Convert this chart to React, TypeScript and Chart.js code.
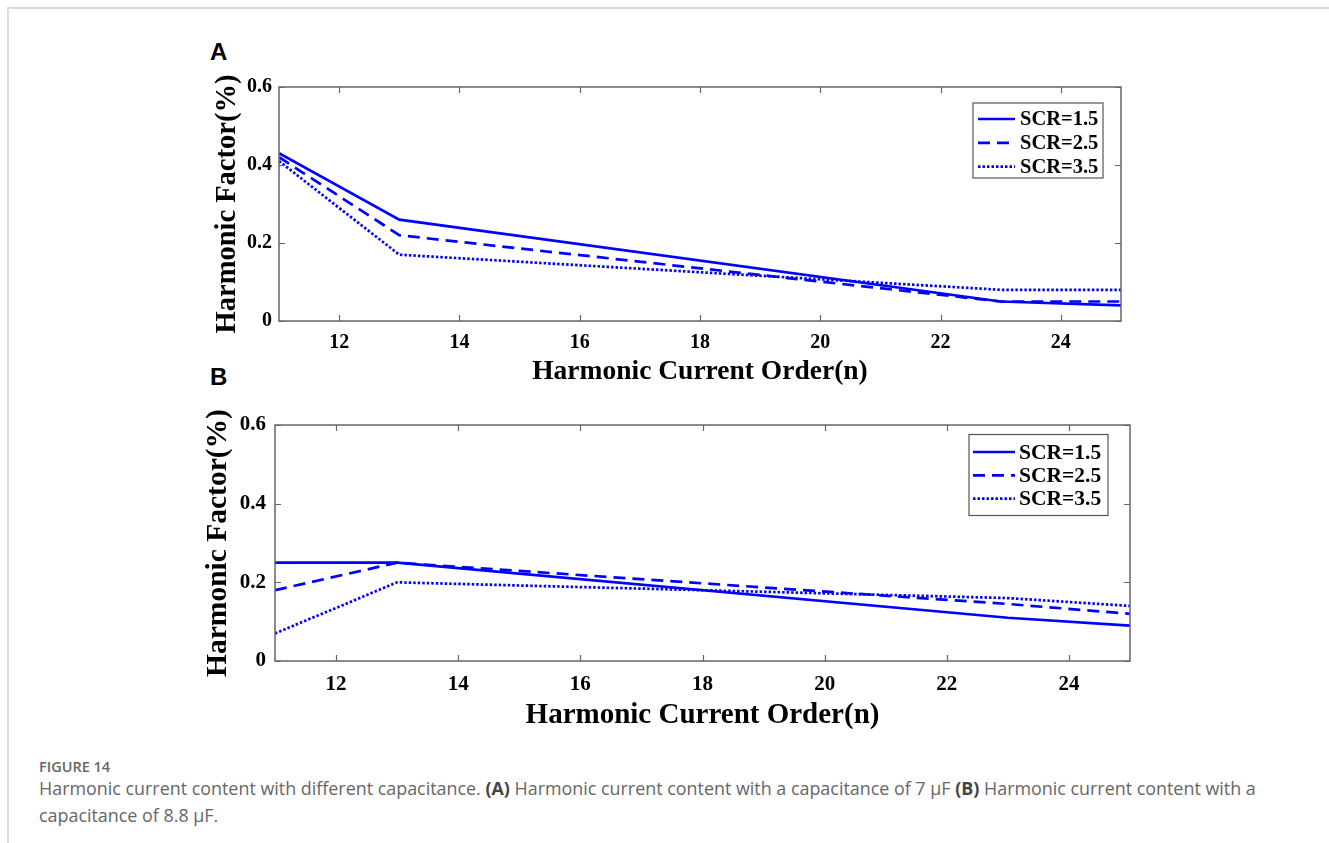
import React, { useEffect, useRef } from 'react';
import { Chart, registerables } from 'chart.js';

Chart.register(...registerables);

// ---- data ----
const harmonicOrders = [11, 13, 23, 25];
const seriesLabels = ['SCR=1.5', 'SCR=2.5', 'SCR=3.5'];

const panelA_scr15 = [0.43, 0.26, 0.05, 0.04];
const panelA_scr25 = [0.42, 0.22, 0.05, 0.05];
const panelA_scr35 = [0.41, 0.17, 0.08, 0.08];

const panelB_scr15 = [0.25, 0.25, 0.11, 0.09];
const panelB_scr25 = [0.18, 0.25, 0.145, 0.12];
const panelB_scr35 = [0.07, 0.2, 0.16, 0.14];

const xTickValues = [12, 14, 16, 18, 20, 22, 24];
const yTickValues = [0, 0.2, 0.4, 0.6];
const yTickLabels = ['0', '0.2', '0.4', '0.6'];

const xTitle = 'Harmonic Current Order(n)';
const yTitle = 'Harmonic Factor(%)';

// ---- styling ----
const BLUE = '#0000ff';
const SERIF = '"Liberation Serif", "Times New Roman", serif';
const lineStyles = [
  { borderDash: [] as number[], borderWidth: 2.7 },
  { borderDash: [12, 7], borderWidth: 2.7 },
  { borderDash: [2.5, 2], borderWidth: 2.7 },
];

const framePlugin = {
  id: 'matlabFrame',
  afterDatasetsDraw(chart: any, _args: any, opts: any) {
    const { ctx, chartArea } = chart;
    const { left, right, top, bottom } = chartArea;
    const xs = chart.scales.x;
    const ys = chart.scales.y;
    ctx.save();
    // inward ticks
    ctx.strokeStyle = opts.color;
    ctx.lineWidth = 1.2;
    ctx.setLineDash([]);
    ctx.beginPath();
    const L = opts.tickLen;
    for (const t of xs.ticks) {
      const px = Math.round(xs.getPixelForValue(t.value)) + 0.5;
      ctx.moveTo(px, bottom);
      ctx.lineTo(px, bottom - L);
      ctx.moveTo(px, top);
      ctx.lineTo(px, top + L);
    }
    for (const t of ys.ticks) {
      const py = Math.round(ys.getPixelForValue(t.value)) + 0.5;
      ctx.moveTo(left, py);
      ctx.lineTo(left + L, py);
      ctx.moveTo(right, py);
      ctx.lineTo(right - L, py);
    }
    ctx.stroke();
    // frame
    ctx.lineWidth = opts.frameWidth;
    ctx.strokeRect(left, top, right - left, bottom - top);

    // legend box
    const bw = opts.legendW;
    const bh = opts.legendH;
    const bx = right - opts.legendRight - bw;
    const by = top + opts.legendTop;
    ctx.fillStyle = '#ffffff';
    ctx.fillRect(bx, by, bw, bh);
    ctx.strokeStyle = '#555';
    ctx.lineWidth = 1.2;
    ctx.strokeRect(bx, by, bw, bh);
    chart.data.datasets.forEach((ds: any, i: number) => {
      const ry = by + opts.rowStart + i * opts.rowGap;
      ctx.beginPath();
      ctx.strokeStyle = ds.borderColor;
      ctx.lineWidth = ds.borderWidth;
      ctx.setLineDash(ds.borderDash || []);
      ctx.moveTo(bx + opts.sampleX0, ry);
      ctx.lineTo(bx + opts.sampleX1, ry);
      ctx.stroke();
      ctx.setLineDash([]);
      ctx.fillStyle = '#000';
      ctx.font = `bold ${opts.legendFont}px ${SERIF}`;
      ctx.textAlign = 'left';
      ctx.textBaseline = 'middle';
      ctx.fillText(ds.label, bx + opts.textX, ry + 1);
    });
    ctx.restore();
  },
};

type Panel = {
  series: number[][];
  canvasLeft: number;
  canvasTop: number;
  canvasW: number;
  canvasH: number;
  padTop: number;
  padRight: number;
  yAxisW: number;
  xAxisH: number;
  tickFont: number;
  xTitleFont: number;
  yTitleFont: number;
  yTitlePad: number;
  xTitlePadBottom: number;
  xTickPad: number;
  yTickPad: number;
  legend: any;
};

const panelA: Panel = {
  series: [panelA_scr15, panelA_scr25, panelA_scr35],
  canvasLeft: 180,
  canvasTop: 55,
  canvasW: 960,
  canvasH: 340,
  padTop: 32,
  padRight: 19,
  yAxisW: 99,
  xAxisH: 74,
  tickFont: 20,
  xTitleFont: 27.5,
  yTitleFont: 28.5,
  yTitlePad: 33.5,
  xTitlePadBottom: 9.5,
  xTickPad: 10,
  yTickPad: 7,
  legend: {
    legendW: 130, legendH: 75, legendRight: 18, legendTop: 16,
    rowStart: 16, rowGap: 23.8, sampleX0: 5, sampleX1: 42, textX: 47, legendFont: 20.5,
  },
};

const panelB: Panel = {
  series: [panelB_scr15, panelB_scr25, panelB_scr35],
  canvasLeft: 180,
  canvasTop: 395,
  canvasW: 960,
  canvasH: 345,
  padTop: 30,
  padRight: 10,
  yAxisW: 95,
  xAxisH: 79,
  tickFont: 21,
  xTitleFont: 29,
  yTitleFont: 29.5,
  yTitlePad: 23.5,
  xTitlePadBottom: 10,
  xTickPad: 10.5,
  yTickPad: 9,
  legend: {
    legendW: 139, legendH: 81, legendRight: 22, legendTop: 9.5,
    rowStart: 17.5, rowGap: 23.3, sampleX0: 4, sampleX1: 46, textX: 50, legendFont: 21.5,
  },
};

function ChartPanel({ p }: { p: Panel }) {
  const ref = useRef<HTMLCanvasElement | null>(null);
  useEffect(() => {
    if (!ref.current) return;
    const datasets = p.series.map((vals, i) => ({
      label: seriesLabels[i],
      data: harmonicOrders.map((x, j) => ({ x, y: vals[j] })),
      borderColor: BLUE,
      backgroundColor: BLUE,
      borderWidth: lineStyles[i].borderWidth,
      borderDash: lineStyles[i].borderDash,
      pointRadius: 0,
      tension: 0,
      fill: false,
    }));
    const tickFont = { family: SERIF, weight: 'bold' as const, size: p.tickFont };
    const xTitleFont = { family: SERIF, weight: 'bold' as const, size: p.xTitleFont, lineHeight: 1 };
    const yTitleFont = { family: SERIF, weight: 'bold' as const, size: p.yTitleFont, lineHeight: 1 };
    const chart = new Chart(ref.current, {
      type: 'line',
      data: { datasets },
      plugins: [framePlugin],
      options: {
        responsive: false,
        animation: false,
        devicePixelRatio: 1,
        layout: { padding: { top: p.padTop, right: p.padRight, left: 0, bottom: 0 } },
        plugins: {
          legend: { display: false },
          tooltip: { enabled: false },
          matlabFrame: { color: '#666', frameWidth: 1.5, tickLen: 6, ...p.legend },
        } as any,
        scales: {
          x: {
            type: 'linear',
            min: 11,
            max: 25,
            afterBuildTicks: (s: any) => {
              s.ticks = xTickValues.map((v) => ({ value: v }));
            },
            afterFit: (s: any) => {
              s.height = p.xAxisH;
            },
            grid: { display: false, drawTicks: false },
            border: { display: false },
            ticks: {
              color: '#000',
              font: tickFont,
              padding: p.xTickPad,
              maxRotation: 0,
              autoSkip: false,
              callback: (v: any) => String(v),
            },
            title: {
              display: true,
              text: xTitle,
              color: '#000',
              font: xTitleFont,
              padding: { top: 0, bottom: p.xTitlePadBottom },
            },
          },
          y: {
            type: 'linear',
            min: 0,
            max: 0.6,
            afterBuildTicks: (s: any) => {
              s.ticks = yTickValues.map((v) => ({ value: v }));
            },
            afterFit: (s: any) => {
              s.width = p.yAxisW;
            },
            grid: { display: false, drawTicks: false },
            border: { display: false },
            ticks: {
              color: '#000',
              font: tickFont,
              padding: p.yTickPad,
              autoSkip: false,
              callback: (v: any) => {
                const idx = yTickValues.indexOf(v);
                return idx >= 0 ? yTickLabels[idx] : String(v);
              },
            },
            title: {
              display: true,
              text: yTitle,
              color: '#000',
              font: yTitleFont,
              padding: { top: p.yTitlePad, bottom: 0 },
            },
          },
        },
      } as any,
    });
    return () => chart.destroy();
  }, [p]);
  return (
    <canvas
      ref={ref}
      width={p.canvasW}
      height={p.canvasH}
      style={{
        position: 'absolute',
        left: p.canvasLeft,
        top: p.canvasTop,
        width: p.canvasW,
        height: p.canvasH,
      }}
    />
  );
}

const panelLabelStyle: React.CSSProperties = {
  position: 'absolute',
  fontFamily: '"Liberation Sans", Arial, sans-serif',
  fontWeight: 'bold',
  fontSize: 24,
  lineHeight: '26px',
  color: '#000',
};

const captionFont = '"Open Sans", "Noto Sans", sans-serif';

export default function App() {
  return (
    <div>
      <div
        style={{
          position: 'absolute',
          left: 7,
          top: 7,
          width: 1322,
          height: 836,
          borderTop: '2px solid #dcdcdc',
          borderLeft: '2px solid #dcdcdc',
          boxSizing: 'border-box',
        }}
      />
      <div style={{ ...panelLabelStyle, left: 210, top: 39 }}>A</div>
      <div style={{ ...panelLabelStyle, left: 210, top: 364 }}>B</div>
      <ChartPanel p={panelA} />
      <ChartPanel p={panelB} />
      <div
        style={{
          position: 'absolute',
          left: 39,
          top: 758,
          fontFamily: captionFont,
          fontSize: 14.5,
          fontWeight: 600,
          lineHeight: '18px',
          color: '#666',
          whiteSpace: 'nowrap',
        }}
      >
        FIGURE 14
      </div>
      <div
        style={{
          position: 'absolute',
          left: 39,
          top: 774.5,
          fontFamily: captionFont,
          fontSize: 17.9,
          lineHeight: '27px',
          color: '#666',
          whiteSpace: 'nowrap',
        }}
      >
        Harmonic current content with different capacitance. <b style={{ color: '#444' }}>(A)</b> Harmonic current
        content with a capacitance of 7 μF <b style={{ color: '#444' }}>(B)</b> Harmonic current content with a
        <br />
        capacitance of 8.8 μF.
      </div>
    </div>
  );
}
